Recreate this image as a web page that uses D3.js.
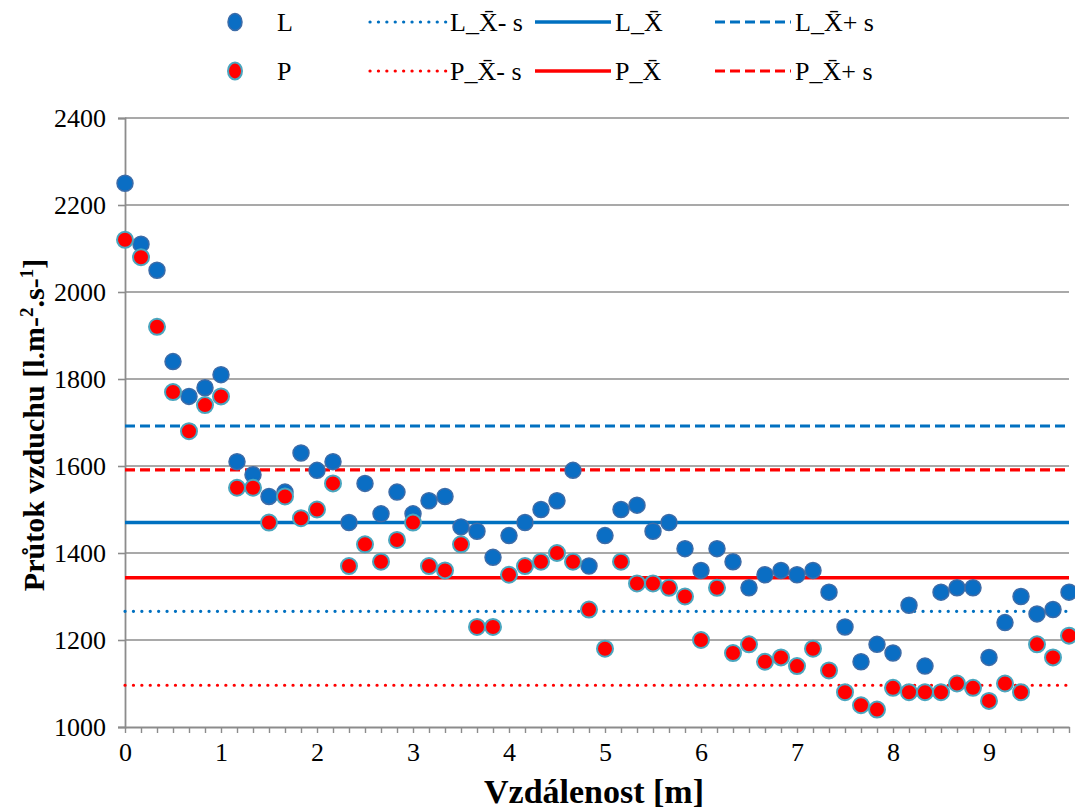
<!DOCTYPE html>
<html>
<head>
<meta charset="utf-8">
<script src="https://cdn.jsdelivr.net/npm/d3@7"></script>
<style>
  body { margin: 0; background: #fff; }
  svg { display: block; }
  svg text { font-family: "Liberation Serif", "Times New Roman", serif !important; }
</style>
</head>
<body>
<svg id="chart" width="1075" height="810"></svg>
<script>
// ---- data ----
const tickLabels = ["0", "1", "2", "3", "4", "5", "6", "7", "8", "9"];
const pointsPerMetre = 6;
const valuesL = [
  2250, 2110, 2050, 1840, 1760, 1780, 1810, 1610, 1580, 1530,
  1540, 1630, 1590, 1610, 1470, 1560, 1490, 1540, 1490, 1520,
  1530, 1460, 1450, 1390, 1440, 1470, 1500, 1520, 1590, 1370,
  1440, 1500, 1510, 1450, 1470, 1410, 1360, 1410, 1380, 1320,
  1350, 1360, 1350, 1360, 1310, 1230, 1150, 1190, 1170, 1280,
  1140, 1310, 1320, 1320, 1160, 1240, 1300, 1260, 1270, 1310
];
const valuesP = [
  2120, 2080, 1920, 1770, 1680, 1740, 1760, 1550, 1550, 1470,
  1530, 1480, 1500, 1560, 1370, 1420, 1380, 1430, 1470, 1370,
  1360, 1420, 1230, 1230, 1350, 1370, 1380, 1400, 1380, 1270,
  1180, 1380, 1330, 1330, 1320, 1300, 1200, 1320, 1170, 1190,
  1150, 1160, 1140, 1180, 1130, 1080, 1050, 1040, 1090, 1080,
  1080, 1080, 1100, 1090, 1060, 1100, 1080, 1190, 1160, 1210
];
const refLineNames = ["L_X\u0304- s", "L_X\u0304", "L_X\u0304+ s", "P_X\u0304- s", "P_X\u0304", "P_X\u0304+ s"];
const refLineValues = [1266, 1470, 1692, 1096, 1343, 1591];
const yTicks = [1000, 1200, 1400, 1600, 1800, 2000, 2200, 2400];

(function () {
// ---- layout ----
const svg = d3.select("#chart");
const mLeft = 125, mRight = 1069, mTop = 118, mBottom = 727;
const n = valuesL.length;
const idx = d3.range(n);
const x = d3.scalePoint().domain(idx).range([mLeft, mRight]);
const y = d3.scaleLinear().domain([1000, 2400]).range([mBottom, mTop]);

const grid = "#8c8c8c";
const blue = "#0A6EC4", blueStroke = "#3D6CA8";
const red = "#FF0000", redStroke = "#4AA6BF";
const lineBlue = "#0070C0";

// gridlines
svg.append("g").selectAll("line").data(yTicks.slice(1)).join("line")
  .attr("x1", mLeft).attr("x2", mRight)
  .attr("y1", d => y(d)).attr("y2", d => y(d))
  .attr("stroke", grid).attr("stroke-width", 1.6);

// y axis
const yAxis = svg.append("g").attr("transform", `translate(${mLeft},0)`)
  .call(d3.axisLeft(y).tickValues(yTicks).tickSize(7).tickPadding(12).tickFormat(d3.format("d")));
yAxis.select(".domain").attr("stroke", grid).attr("stroke-width", 1.8);
yAxis.selectAll(".tick line").attr("stroke", grid).attr("stroke-width", 1.6);
yAxis.selectAll("text").attr("font-size", 26).attr("fill", "#000");

// x axis
const xAxis = svg.append("g").attr("transform", `translate(0,${mBottom})`)
  .call(d3.axisBottom(x).tickValues(idx).tickSize(6).tickSizeOuter(0)
    .tickFormat(i => (i % pointsPerMetre === 0 ? tickLabels[i / pointsPerMetre] : "")));
xAxis.select(".domain").attr("stroke", grid).attr("stroke-width", 1.8);
xAxis.selectAll(".tick line").attr("stroke", grid).attr("stroke-width", 1.4);
xAxis.selectAll("text").attr("font-size", 26).attr("fill", "#000").attr("dy", "0.95em");

// reference lines
const lineStyle = [
  { c: lineBlue, dash: "0.1 8.3", cap: "round", w: 3.2 },
  { c: lineBlue, dash: null, cap: "butt", w: 3.5 },
  { c: lineBlue, dash: "10 5", cap: "butt", w: 3.2 },
  { c: red, dash: "0.1 8.3", cap: "round", w: 3.2 },
  { c: red, dash: null, cap: "butt", w: 3.5 },
  { c: red, dash: "10 5", cap: "butt", w: 3.2 }
];
svg.append("g").selectAll("line").data(refLineValues).join("line")
  .attr("x1", x(0)).attr("x2", x(n - 1))
  .attr("y1", d => y(d)).attr("y2", d => y(d))
  .attr("stroke", (d, i) => lineStyle[i].c)
  .attr("stroke-width", (d, i) => lineStyle[i].w)
  .attr("stroke-dasharray", (d, i) => lineStyle[i].dash)
  .attr("stroke-linecap", (d, i) => lineStyle[i].cap);

// points
const r = 8;
svg.append("g").selectAll("circle").data(valuesL).join("circle")
  .attr("cx", (d, i) => x(i)).attr("cy", d => y(d)).attr("r", r)
  .attr("fill", blue).attr("stroke", blueStroke).attr("stroke-width", 1.5);
svg.append("g").selectAll("circle").data(valuesP).join("circle")
  .attr("cx", (d, i) => x(i)).attr("cy", d => y(d)).attr("r", r)
  .attr("fill", red).attr("stroke", redStroke).attr("stroke-width", 2);

// axis titles
svg.append("text")
  .attr("x", 594).attr("y", 803)
  .attr("text-anchor", "middle").attr("font-weight", "bold").attr("font-size", 34)
  .text("Vzdálenost [m]");

const yt = svg.append("text")
  .attr("transform", "translate(44,425) rotate(-90)")
  .attr("text-anchor", "middle").attr("font-weight", "bold").attr("font-size", 30);
yt.append("tspan").text("Průtok vzduchu [l.m-");
yt.append("tspan").attr("font-size", 19).attr("dy", -11).text("2");
yt.append("tspan").attr("dy", 11).text(".s-");
yt.append("tspan").attr("font-size", 19).attr("dy", -11).text("1");
yt.append("tspan").attr("dy", 11).text("]");

// legend
const legend = svg.append("g").attr("font-size", 26);
const rowY = [22, 71];
legend.append("ellipse").attr("cx", 235).attr("cy", rowY[0]).attr("rx", 7).attr("ry", 8.5)
  .attr("fill", blue).attr("stroke", blueStroke).attr("stroke-width", 1.5);
legend.append("ellipse").attr("cx", 235).attr("cy", rowY[1]).attr("rx", 7).attr("ry", 8.5)
  .attr("fill", red).attr("stroke", redStroke).attr("stroke-width", 2);
legend.append("text").attr("x", 277).attr("y", rowY[0] + 9).text("L");
legend.append("text").attr("x", 277).attr("y", rowY[1] + 9).text("P");
const colLineX = [370, 535, 715];
refLineNames.forEach((name, i) => {
  const row = Math.floor(i / 3), col = i % 3, s = lineStyle[i];
  const lx = colLineX[col];
  legend.append("line")
    .attr("x1", lx).attr("x2", lx + 76).attr("y1", rowY[row]).attr("y2", rowY[row])
    .attr("stroke", s.c).attr("stroke-width", s.w)
    .attr("stroke-dasharray", s.dash).attr("stroke-linecap", s.cap);
  legend.append("text").attr("x", lx + 80).attr("y", rowY[row] + 9).text(name);
});
})();
</script>
</body>
</html>
